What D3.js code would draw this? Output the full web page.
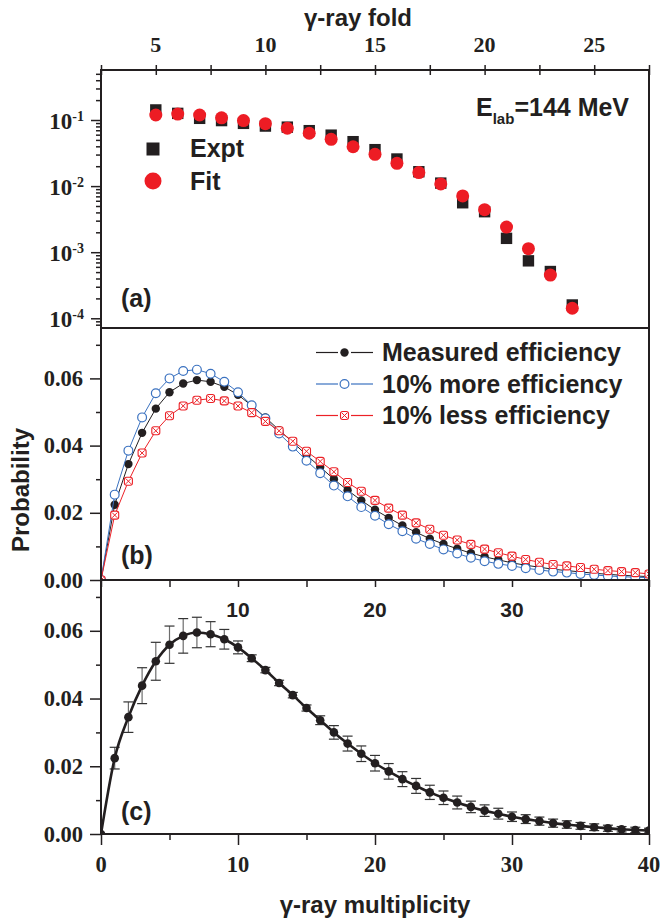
<!DOCTYPE html>
<html>
<head>
<meta charset="utf-8">
<script src="https://cdn.jsdelivr.net/npm/d3@7"></script>
<style>
  body { margin: 0; background: #fff; }
</style>
</head>
<body>
<div class="canvas"></div>
<script>
// ---- data ----
// panel (a): fold distribution
const folds = [5, 6, 7, 8, 9, 10, 11, 12, 13, 14, 15, 16, 17, 18, 19, 20, 21, 22, 23, 24];
const exptProb = [0.142, 0.126, 0.106, 0.098, 0.089, 0.081, 0.078, 0.069, 0.059, 0.047,
  0.0356, 0.0257, 0.0165, 0.0111, 0.0056, 0.0041, 0.00162, 0.00074, 0.00051, 0.000159];
const fitProb = [0.119, 0.123, 0.119, 0.108, 0.098, 0.088, 0.075, 0.063, 0.051, 0.0394,
  0.0303, 0.0221, 0.0160, 0.0108, 0.0071, 0.0044, 0.0024, 0.00113, 0.00045, 0.000142];

// panels (b), (c): multiplicity distributions
const multiplicity = [0, 1, 2, 3, 4, 5, 6, 7, 8, 9, 10, 11, 12, 13, 14, 15, 16, 17, 18, 19, 20,
  21, 22, 23, 24, 25, 26, 27, 28, 29, 30, 31, 32, 33, 34, 35, 36, 37, 38, 39, 40];
const measuredEff = [0, 0.0224, 0.0345, 0.0438, 0.0510, 0.0559, 0.0585, 0.0595, 0.0590, 0.0575,
  0.0551, 0.0519, 0.0484, 0.0446, 0.0410, 0.0372, 0.0336, 0.0300, 0.0267, 0.0237,
  0.0209, 0.0185, 0.0162, 0.0142, 0.0123, 0.0107, 0.0093, 0.0080, 0.0069, 0.0060,
  0.0051, 0.0044, 0.0038, 0.0032, 0.0028, 0.0024, 0.0020, 0.0017, 0.0014, 0.0012, 0.0010];
const moreEff = [0, 0.0254, 0.0385, 0.0484, 0.0556, 0.0600, 0.0622, 0.0626, 0.0614, 0.0590,
  0.0559, 0.0520, 0.0481, 0.0436, 0.0397, 0.0355, 0.0318, 0.0281, 0.0249, 0.0217,
  0.0191, 0.0166, 0.0145, 0.0123, 0.0107, 0.0091, 0.0079, 0.0066, 0.0056, 0.0048,
  0.0042, 0.0035, 0.0030, 0.0025, 0.0022, 0.0018, 0.0015, 0.0012, 0.0010, 0.0008, 0.0007];
const lessEff = [0, 0.0193, 0.0294, 0.0378, 0.0444, 0.0489, 0.0518, 0.0535, 0.0540, 0.0533,
  0.0518, 0.0498, 0.0472, 0.0444, 0.0413, 0.0383, 0.0353, 0.0322, 0.0290, 0.0264,
  0.0237, 0.0214, 0.0193, 0.0170, 0.0151, 0.0133, 0.0119, 0.0106, 0.0092, 0.0081,
  0.0071, 0.0061, 0.0053, 0.0046, 0.0042, 0.0037, 0.0032, 0.0028, 0.0025, 0.0022, 0.0018];
const measuredErr = [0, 0.0032, 0.0045, 0.0053, 0.0056, 0.0055, 0.0051, 0.0045, 0.0037, 0.0029,
  0.0019, 0.0010, 0.0008, 0.0008, 0.0008, 0.0009, 0.0013, 0.0020, 0.0022, 0.0023,
  0.0023, 0.0023, 0.0022, 0.0022, 0.0021, 0.0020, 0.0019, 0.0017, 0.0017, 0.0016,
  0.0014, 0.0013, 0.0012, 0.0012, 0.0011, 0.0010, 0.0010, 0.0009, 0.0008, 0.0008, 0.0007];

// tick labels
const foldTicks = [5, 10, 15, 20, 25];
const logTicks = [-1, -2, -3, -4];
const probTicks = [0, 0.02, 0.04, 0.06];
const multTicks = [0, 10, 20, 30, 40];
const innerTicks = [10, 20, 30];

const seriesB = [
  { name: 'Measured efficiency', values: measuredEff, color: '#231f20', marker: 'filled' },
  { name: '10% more efficiency', values: moreEff, color: '#3b72c0', marker: 'open' },
  { name: '10% less efficiency', values: lessEff, color: '#ec2127', marker: 'cross' }
];

// ---- layout ----
const width = 660, height = 922;
const left = 101, right = 649;
const aTop = 70, aBot = 328, bBot = 580, cBot = 834;
const ink = '#231f20';
const red = '#ed1c24';
const sans = "'Liberation Sans', Arial, sans-serif";
const serif = "'Liberation Serif', 'Times New Roman', serif";

const svg = d3.select('.canvas')
  .append('svg')
  .attr('width', width)
  .attr('height', height)
  .style('background', '#fff');

// scales
const xFold = d3.scaleLinear().domain([2.5, 27.5]).range([left, right]);
const yLog = d3.scaleLog().domain([7.13e-5, 0.571]).range([aBot, aTop]);
const xMult = d3.scaleLinear().domain([0, 40]).range([left, right]);
const yB = d3.scaleLinear().domain([0, 0.075]).range([bBot, aTop + (aBot - aTop)]);
const yC = d3.scaleLinear().domain([0, 0.075]).range([cBot, bBot]);

// clip areas
const defs = svg.append('defs');
defs.append('clipPath').attr('id', 'clipB').append('rect')
  .attr('x', left).attr('y', aBot).attr('width', right - left).attr('height', bBot - aBot);
defs.append('clipPath').attr('id', 'clipC').append('rect')
  .attr('x', left).attr('y', bBot).attr('width', right - left).attr('height', cBot - bBot);

const styleAxis = (g, w) => {
  g.select('.domain').remove();
  g.selectAll('line').attr('stroke', ink).attr('stroke-width', w || 1.5);
  g.selectAll('text').remove();
};

// ---- axes ----
// top fold axis (ticks crossing)
const foldMinor = [2.5, 7.5, 12.5, 17.5, 22.5, 27.5];
svg.append('g')
  .attr('transform', `translate(0, ${aTop + 5})`)
  .call(d3.axisTop(xFold).tickValues(foldTicks.concat(foldMinor)).tickSize(10).tickFormat(''))
  .call(g => styleAxis(g));

svg.append('g').selectAll('text')
  .data(foldTicks)
  .enter().append('text')
  .attr('x', d => xFold(d))
  .attr('y', 52)
  .attr('text-anchor', 'middle')
  .style('font-family', serif).style('font-weight', 'bold').style('font-size', '22px')
  .attr('fill', ink)
  .text(d => d);

svg.append('text')
  .attr('x', 358).attr('y', 26)
  .attr('text-anchor', 'middle')
  .style('font-family', sans).style('font-weight', 'bold').style('font-size', '24px')
  .attr('fill', ink)
  .text('γ-ray fold');

// left log axis
const logMinor = yLog.ticks().filter(v => {
  const m = v / Math.pow(10, Math.floor(Math.log10(v) + 1e-9));
  return Math.abs(m - 1) > 1e-6;
});
svg.append('g')
  .attr('transform', `translate(${left}, 0)`)
  .call(d3.axisLeft(yLog).tickValues(logMinor).tickSize(5).tickFormat(''))
  .call(g => styleAxis(g));
svg.append('g')
  .attr('transform', `translate(${left}, 0)`)
  .call(d3.axisLeft(yLog).tickValues(logTicks.map(e => Math.pow(10, e))).tickSize(10).tickFormat(''))
  .call(g => styleAxis(g));

const logLabels = svg.append('g').selectAll('text')
  .data(logTicks)
  .enter().append('text')
  .attr('x', 84)
  .attr('y', d => yLog(Math.pow(10, d)) + 9)
  .attr('text-anchor', 'end')
  .style('font-family', serif).style('font-weight', 'bold').style('font-size', '23px')
  .attr('fill', ink);
logLabels.append('tspan').text('10');
logLabels.append('tspan').attr('dy', -8).style('font-size', '14px').text(d => d);

// probability axes for (b) and (c)
const probMinor = [0.01, 0.03, 0.05, 0.07];
[yB, yC].forEach(y => {
  svg.append('g')
    .attr('transform', `translate(${left}, 0)`)
    .call(d3.axisLeft(y).tickValues(probMinor).tickSize(5).tickFormat(''))
    .call(g => styleAxis(g));
  svg.append('g')
    .attr('transform', `translate(${left}, 0)`)
    .call(d3.axisLeft(y).tickValues(probTicks).tickSize(11).tickFormat(''))
    .call(g => styleAxis(g));
  svg.append('g').selectAll('text')
    .data(probTicks)
    .enter().append('text')
    .attr('x', 83)
    .attr('y', d => y(d) + 7.5)
    .attr('text-anchor', 'end')
    .style('font-family', serif).style('font-weight', 'bold').style('font-size', '22.5px')
    .attr('fill', ink)
    .text(d => d3.format('.2f')(d));
});

// x ticks between (b) and (c), pointing down
const multAll = [0, 5, 10, 15, 20, 25, 30, 35, 40];
svg.append('g')
  .attr('transform', `translate(0, ${bBot})`)
  .call(d3.axisBottom(xMult).tickValues(multAll).tickSize(7).tickFormat(''))
  .call(g => styleAxis(g));

// bottom multiplicity axis
svg.append('g')
  .attr('transform', `translate(0, ${cBot})`)
  .call(d3.axisBottom(xMult).tickValues([5, 15, 25, 35]).tickSize(6).tickFormat(''))
  .call(g => styleAxis(g));
svg.append('g')
  .attr('transform', `translate(0, ${cBot})`)
  .call(d3.axisBottom(xMult).tickValues(multTicks).tickSize(11).tickFormat(''))
  .call(g => styleAxis(g));

svg.append('g').selectAll('text')
  .data(multTicks)
  .enter().append('text')
  .attr('x', d => xMult(d))
  .attr('y', 872)
  .attr('text-anchor', 'middle')
  .style('font-family', serif).style('font-weight', 'bold').style('font-size', '22.5px')
  .attr('fill', ink)
  .text(d => d);

svg.append('g').selectAll('text')
  .data(innerTicks)
  .enter().append('text')
  .attr('x', d => xMult(d))
  .attr('y', 617)
  .attr('text-anchor', 'middle')
  .style('font-family', sans).style('font-weight', 'bold').style('font-size', '21px')
  .attr('fill', ink)
  .text(d => d);

svg.append('text')
  .attr('x', (left + right) / 2).attr('y', 913)
  .attr('text-anchor', 'middle')
  .style('font-family', sans).style('font-weight', 'bold').style('font-size', '24px')
  .attr('fill', ink)
  .text('γ-ray multiplicity');

svg.append('text')
  .attr('transform', 'translate(29, 490) rotate(-90)')
  .attr('text-anchor', 'middle')
  .style('font-family', sans).style('font-weight', 'bold').style('font-size', '24px')
  .attr('fill', ink)
  .text('Probability');

// ---- panel (a) ----
const gA = svg.append('g');
gA.selectAll('rect.expt')
  .data(folds)
  .enter().append('rect')
  .attr('class', 'expt')
  .attr('x', (d, i) => xFold(d) - 5.7)
  .attr('y', (d, i) => yLog(exptProb[i]) - 5.7)
  .attr('width', 11.4).attr('height', 11.4)
  .attr('fill', ink);
gA.selectAll('circle.fit')
  .data(folds)
  .enter().append('circle')
  .attr('class', 'fit')
  .attr('cx', d => xFold(d))
  .attr('cy', (d, i) => yLog(fitProb[i]))
  .attr('r', 6.5)
  .attr('fill', red);

gA.append('rect').attr('x', 146.5).attr('y', 142.5).attr('width', 13).attr('height', 13).attr('fill', ink);
gA.append('circle').attr('cx', 153).attr('cy', 181).attr('r', 8.5).attr('fill', red);
const bigText = (g, x, y, t) => g.append('text')
  .attr('x', x).attr('y', y)
  .style('font-family', sans).style('font-weight', 'bold').style('font-size', '25px')
  .attr('fill', ink)
  .text(t);
bigText(gA, 190, 157, 'Expt');
bigText(gA, 190, 189.5, 'Fit');
bigText(gA, 121, 307, '(a)');

const elab = gA.append('text')
  .attr('x', 476).attr('y', 116)
  .style('font-family', sans).style('font-weight', 'bold').style('font-size', '25px')
  .attr('fill', ink);
elab.append('tspan').text('E');
elab.append('tspan').attr('dy', 8).style('font-size', '15px').text('lab');
elab.append('tspan').attr('dy', -8).text('=144 MeV');

// ---- marker drawing ----
const drawMarker = (g, kind, color, cx, cy) => {
  if (kind === 'filled') {
    g.append('circle').attr('cx', cx).attr('cy', cy).attr('r', 4.2).attr('fill', color);
  } else if (kind === 'open') {
    g.append('circle').attr('cx', cx).attr('cy', cy).attr('r', 4.4)
      .attr('fill', '#fff').attr('stroke', color).attr('stroke-width', 1.2);
  } else {
    g.append('rect').attr('x', cx - 4).attr('y', cy - 4).attr('width', 8).attr('height', 8)
      .attr('rx', 2.2).attr('fill', '#fff').attr('stroke', color).attr('stroke-width', 1.1);
    g.append('path')
      .attr('d', `M${cx - 2.6},${cy - 2.6}L${cx + 2.6},${cy + 2.6}M${cx - 2.6},${cy + 2.6}L${cx + 2.6},${cy - 2.6}`)
      .attr('stroke', color).attr('stroke-width', 1);
  }
};

// ---- panel (b) ----
const gB = svg.append('g').attr('clip-path', 'url(#clipB)');
const lineB = d3.line()
  .x((d, i) => xMult(multiplicity[i]))
  .y(d => yB(d));

seriesB.forEach(s => {
  gB.append('path')
    .attr('d', lineB(s.values))
    .attr('fill', 'none')
    .attr('stroke', s.color)
    .attr('stroke-width', 1);
  s.values.forEach((v, i) => drawMarker(gB, s.marker, s.color, xMult(multiplicity[i]), yB(v)));
});

// legend (b)
const legB = svg.append('g');
seriesB.forEach((s, i) => {
  const ly = 352.5 + i * 31.5;
  legB.append('line').attr('x1', 316).attr('x2', 338).attr('y1', ly).attr('y2', ly)
    .attr('stroke', s.color).attr('stroke-width', 1.2);
  legB.append('line').attr('x1', 351).attr('x2', 373).attr('y1', ly).attr('y2', ly)
    .attr('stroke', s.color).attr('stroke-width', 1.2);
  drawMarker(legB, s.marker, s.color, 344.5, ly);
  bigText(legB, 382, ly + 8.5, s.name);
});
bigText(svg, 121, 564, '(b)');

// ---- panel (c) ----
const gC = svg.append('g').attr('clip-path', 'url(#clipC)');
const errG = gC.append('g');
multiplicity.forEach((m, i) => {
  const e = measuredErr[i];
  if (!e) return;
  const x = xMult(m);
  const y1 = yC(measuredEff[i] + e), y2 = yC(measuredEff[i] - e);
  errG.append('line').attr('x1', x).attr('x2', x).attr('y1', y1).attr('y2', y2)
    .attr('stroke', '#6d6d6d').attr('stroke-width', 1.2);
  [y1, y2].forEach(yy => errG.append('line')
    .attr('x1', x - 5).attr('x2', x + 5).attr('y1', yy).attr('y2', yy)
    .attr('stroke', '#333').attr('stroke-width', 1.2));
});

const lineC = d3.line()
  .x((d, i) => xMult(multiplicity[i]))
  .y(d => yC(d))
  .curve(d3.curveMonotoneX);
gC.append('path')
  .attr('d', lineC(measuredEff))
  .attr('fill', 'none')
  .attr('stroke', ink)
  .attr('stroke-width', 2.6);
gC.selectAll('circle.pt')
  .data(measuredEff)
  .enter().append('circle')
  .attr('class', 'pt')
  .attr('cx', (d, i) => xMult(multiplicity[i]))
  .attr('cy', d => yC(d))
  .attr('r', 4.3)
  .attr('fill', ink);
bigText(svg, 121, 820, '(c)');

// ---- frames ----
svg.append('rect')
  .attr('x', left).attr('y', aTop)
  .attr('width', right - left).attr('height', cBot - aTop)
  .attr('fill', 'none').attr('stroke', ink).attr('stroke-width', 2);
[aBot, bBot].forEach(y => svg.append('line')
  .attr('x1', left).attr('x2', right).attr('y1', y).attr('y2', y)
  .attr('stroke', ink).attr('stroke-width', 2));
</script>
</body>
</html>
